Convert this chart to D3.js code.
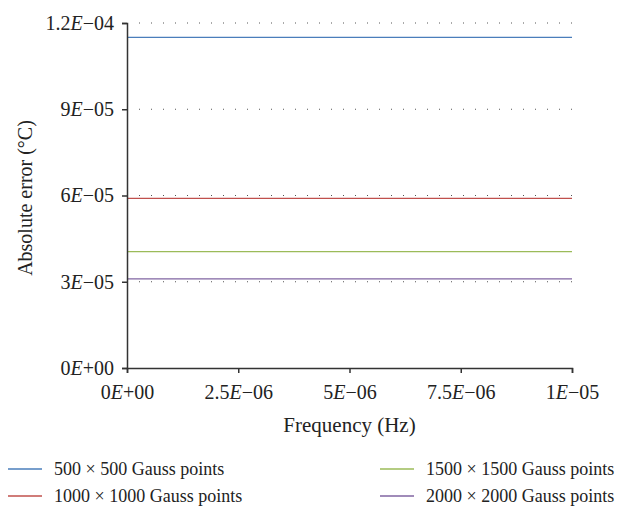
<!DOCTYPE html>
<html>
<head>
<meta charset="utf-8">
<script src="https://cdn.jsdelivr.net/npm/d3@7"></script>
<style>
  body { margin: 0; background: #fff; }
  svg { font-family: "Liberation Serif", "DejaVu Serif", serif; }
</style>
</head>
<body>
<svg id="chart"></svg>
<script>
// data
var seriesNames = ["500 × 500 Gauss points", "1000 × 1000 Gauss points", "1500 × 1500 Gauss points", "2000 × 2000 Gauss points"]
var seriesColors = ["#4a7ebb", "#c0504d", "#9bbb59", "#8064a2"]
var seriesValues = [1.15e-4, 5.9e-5, 4.05e-5, 3.1e-5]
var freqs = [0, 1e-5]
var yTicks = [0, 3e-5, 6e-5, 9e-5, 1.2e-4]
var yTickLabels = [["0", "E", "+00"], ["3", "E", "−05"], ["6", "E", "−05"], ["9", "E", "−05"], ["1.2", "E", "−04"]]
var xTicks = [0, 2.5e-6, 5e-6, 7.5e-6, 1e-5]
var xTickLabels = [["0", "E", "+00"], ["2.5", "E", "−06"], ["5", "E", "−06"], ["7.5", "E", "−06"], ["1", "E", "−05"]]

var dimensions = {
    width: 618,
    height: 512,
    margin: { top: 23, bottom: 144, right: 46, left: 127 }
}

var svg = d3.select("#chart")
    .attr("width", dimensions.width)
    .attr("height", dimensions.height)

var xScale = d3.scaleLinear()
    .domain([0, 1e-5])
    .range([dimensions.margin.left, dimensions.width - dimensions.margin.right])

var yScale = d3.scaleLinear()
    .domain([0, 1.2e-4])
    .range([dimensions.height - dimensions.margin.bottom, dimensions.margin.top])

// dotted grid
svg.append("g")
    .selectAll("line")
    .data(yTicks.filter(d => d > 0))
    .enter()
    .append("line")
    .attr("x1", xScale(0) + 12)
    .attr("x2", xScale(1e-5))
    .attr("y1", d => yScale(d))
    .attr("y2", d => yScale(d))
    .attr("stroke", "#555")
    .attr("stroke-width", 1)
    .attr("stroke-dasharray", "1,11")

// series lines
var line = d3.line()
    .x(d => xScale(d[0]))
    .y(d => yScale(d[1]))

svg.append("g")
    .selectAll("path")
    .data(seriesValues)
    .enter()
    .append("path")
    .attr("d", (v) => line(freqs.map(f => [f, v])))
    .attr("fill", "none")
    .attr("stroke", (v, i) => seriesColors[i])
    .attr("stroke-width", 1.3)

function sciLabel(sel, parts) {
    sel.text("")
    sel.append("tspan").text(parts[0])
    sel.append("tspan").attr("font-style", "italic").text(parts[1])
    sel.append("tspan").text(parts[2])
}

// axes
var yAxisGen = d3.axisLeft(yScale)
    .tickValues(yTicks)
    .tickSize(5)
    .tickPadding(8)
var yAxis = svg.append("g")
    .attr("transform", `translate(${dimensions.margin.left},0)`)
    .call(yAxisGen)
yAxis.selectAll(".tick text")
    .attr("font-size", 20)
    .attr("font-family", "Liberation Serif")
    .attr("fill", "#222")
    .each(function (d, i) { sciLabel(d3.select(this), yTickLabels[i]) })

var xAxisGen = d3.axisBottom(xScale)
    .tickValues(xTicks)
    .tickSize(5)
    .tickPadding(12)
var xAxis = svg.append("g")
    .attr("transform", `translate(0,${dimensions.height - dimensions.margin.bottom})`)
    .call(xAxisGen)
xAxis.selectAll(".tick text")
    .attr("font-size", 20)
    .attr("font-family", "Liberation Serif")
    .attr("fill", "#222")
    .each(function (d, i) { sciLabel(d3.select(this), xTickLabels[i]) })

svg.selectAll(".domain, .tick line")
    .attr("stroke", "#333")
    .attr("stroke-width", 1.5)

// axis titles
svg.append("text")
    .attr("text-anchor", "middle")
    .attr("x", (xScale(0) + xScale(1e-5)) / 2)
    .attr("y", 432)
    .attr("font-size", 21)
    .attr("fill", "#222")
    .text("Frequency (Hz)")

svg.append("text")
    .attr("text-anchor", "middle")
    .attr("transform", "rotate(-90)")
    .attr("x", -198)
    .attr("y", 32)
    .attr("font-size", 20)
    .attr("fill", "#222")
    .text("Absolute error (°C)")

// legend
var legendPos = [[8, 469], [8, 496], [380, 469], [380, 496]]
var legend = svg.append("g")
    .selectAll("g")
    .data(seriesNames)
    .enter()
    .append("g")
    .attr("transform", (d, i) => `translate(${legendPos[i][0]},${legendPos[i][1]})`)
legend.append("line")
    .attr("x1", 0).attr("x2", 34)
    .attr("y1", 0).attr("y2", 0)
    .attr("stroke", (d, i) => seriesColors[i])
    .attr("stroke-width", 1.3)
legend.append("text")
    .attr("x", 46)
    .attr("y", 6)
    .attr("font-size", 18)
    .attr("fill", "#222")
    .text(d => d)
</script>
</body>
</html>
